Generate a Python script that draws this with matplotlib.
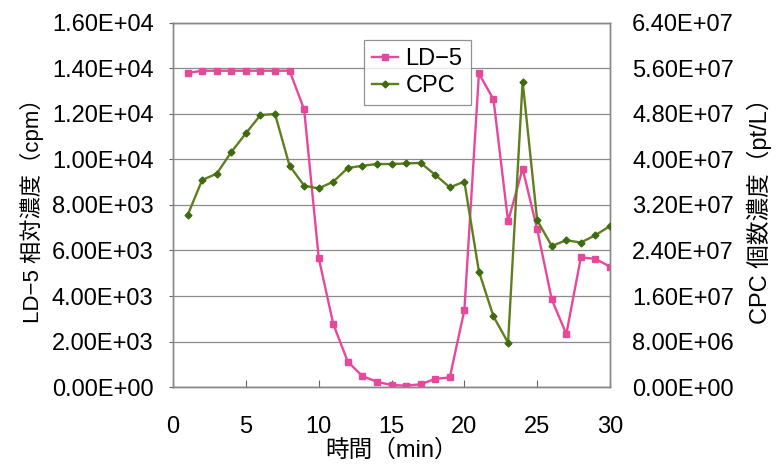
import matplotlib
matplotlib.use("Agg")
import matplotlib.pyplot as plt
from matplotlib.ticker import FuncFormatter, FixedLocator

plt.rcParams['font.family'] = ['Liberation Sans', 'Noto Sans CJK JP', 'DejaVu Sans']

time_min = list(range(1, 31))
ld5 = [13800, 13900, 13900, 13900, 13900, 13900, 13900, 13900, 12200, 5680,
       2770, 1110, 480, 230, 90, 60, 120, 360, 420, 3380,
       13780, 12640, 7280, 9600, 6930, 3850, 2330, 5700, 5630, 5290]
cpc = [3.02e7, 3.64e7, 3.75e7, 4.13e7, 4.46e7, 4.78e7, 4.80e7, 3.89e7, 3.54e7, 3.49e7,
       3.61e7, 3.85e7, 3.89e7, 3.92e7, 3.92e7, 3.93e7, 3.94e7, 3.73e7, 3.51e7, 3.61e7,
       2.03e7, 1.24e7, 7.8e6, 5.37e7, 2.93e7, 2.48e7, 2.58e7, 2.54e7, 2.67e7, 2.83e7]
left_ticks = [0, 2000, 4000, 6000, 8000, 10000, 12000, 14000, 16000]
right_ticks = [0, 8e6, 1.6e7, 2.4e7, 3.2e7, 4.0e7, 4.8e7, 5.6e7, 6.4e7]
x_ticks = [0, 5, 10, 15, 20, 25, 30]

def sci(v, pos=None):
    return "%.2E" % v

fig = plt.figure(figsize=(7.77, 4.68), dpi=100)
ax = fig.add_axes([0.2227, 0.173, 0.5624, 0.778])
ax2 = ax.twinx()

pink = '#e8489c'
green = '#5f7f1e'

l1, = ax.plot(time_min, ld5, color=pink, lw=1.7, marker='s', ms=5,
              markerfacecolor=pink, markeredgecolor=pink, label='LD\u22125', zorder=3)
l2, = ax2.plot(time_min, cpc, color=green, lw=1.7, marker='D', ms=3.5,
               markerfacecolor='#3f6a10', markeredgecolor='#3f6a10', label='CPC', zorder=3)

ax.set_xlim(0, 30)
ax.set_ylim(0, 16000)
ax2.set_ylim(0, 6.4e7)
ax.set_xticks(x_ticks)
ax.yaxis.set_major_locator(FixedLocator(left_ticks))
ax2.yaxis.set_major_locator(FixedLocator(right_ticks))
ax.yaxis.set_major_formatter(FuncFormatter(sci))
ax2.yaxis.set_major_formatter(FuncFormatter(sci))

ax.grid(axis='y', color='#8a8a8a', lw=0.9)
ax.set_axisbelow(True)
for a in (ax, ax2):
    for s in a.spines.values():
        s.set_color('#888888')
        s.set_linewidth(1.0)
ax.tick_params(axis='x', direction='in', length=5, labelsize=17, pad=21, color='#666666')
ax.tick_params(axis='y', direction='out', length=3, labelsize=17, pad=11, color='#666666')
ax2.tick_params(axis='y', length=0, labelsize=17, pad=16)

ax.set_xlabel('時間（min）', fontsize=17, labelpad=1)
ax.set_ylabel('LD\u22125 相対濃度（cpm）', fontsize=16, labelpad=6)
ax2.set_ylabel('CPC 個数濃度（pt/L）', fontsize=17, labelpad=9)

leg = ax.legend(handles=[l1, l2], loc='upper left', bbox_to_anchor=(0.41, 0.985),
                fontsize=17, frameon=True, fancybox=False, edgecolor='#777777',
                handlelength=1.1, handletextpad=0.3, borderpad=0.35, labelspacing=0.2)
leg.get_frame().set_linewidth(0.9)

fig.savefig('out.png', dpi=100)
